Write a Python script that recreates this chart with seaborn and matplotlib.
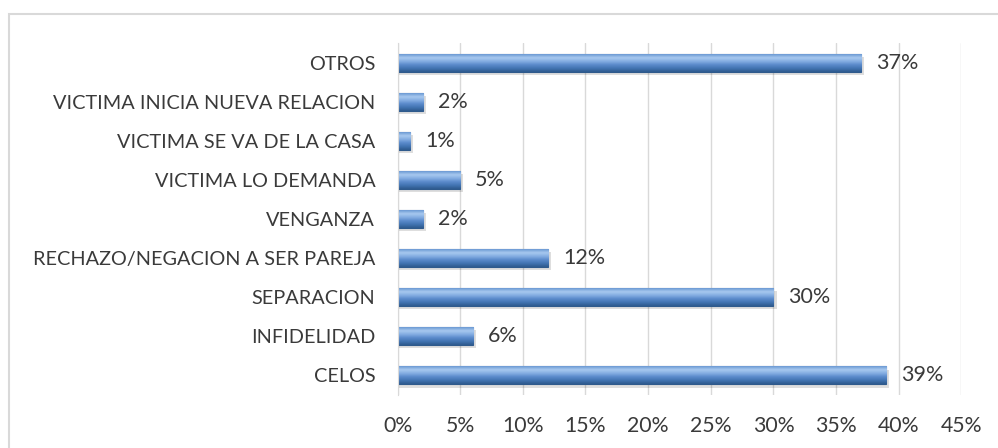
import numpy as np
import pandas as pd
import matplotlib
matplotlib.use("Agg")
import matplotlib.pyplot as plt
from matplotlib.patches import Rectangle
from matplotlib.colors import LinearSegmentedColormap
import seaborn as sns

categories = ["OTROS", "VICTIMA INICIA NUEVA RELACION", "VICTIMA SE VA DE LA CASA",
              "VICTIMA LO DEMANDA", "VENGANZA", "RECHAZO/NEGACION A SER PAREJA",
              "SEPARACION", "INFIDELIDAD", "CELOS"]
values = [37, 2, 1, 5, 2, 12, 30, 6, 39]
xticks = [0, 5, 10, 15, 20, 25, 30, 35, 40, 45]

df = pd.DataFrame({"motivo": categories, "pct": values})

sns.set_style("white")
plt.rcParams["font.family"] = ["Lato", "DejaVu Sans"]
txt = "#3A3A3A"

fig = plt.figure(figsize=(9.98, 4.48), dpi=100)
ax = fig.add_axes([0.3983, 0.1183, 0.5651, 0.7857])

bh = 0.46
sns.barplot(data=df, x="pct", y="motivo", orient="h", color="#4A7EBB",
            width=bh, saturation=1, edgecolor="#2F5A8C", linewidth=0.8, ax=ax, zorder=2)
rects = list(ax.patches)

# excel-like bevel: vertical gradient clipped to each bar
grad = LinearSegmentedColormap.from_list(
    "bevel", ["#6A98D2", "#A9CAF0", "#84ADE2", "#5A8ACB", "#4274B2", "#2E5A8E"])
g = np.linspace(0, 1, 64).reshape(-1, 1)
for r in rects:
    x0, y0, w, h = r.get_x(), r.get_y(), r.get_width(), r.get_height()
    im = ax.imshow(g, cmap=grad, aspect="auto", extent=(x0, x0 + w, y0 + h, y0),
                   zorder=2.5, interpolation="bicubic")
    im.set_clip_path(r)
    # soft shadow
    ax.add_patch(Rectangle((x0 + 0.1, y0 + 0.08), w + 0.15, h, color="#000000",
                           alpha=0.13, zorder=1, linewidth=0))

for i, v in enumerate(values):
    ax.text(v + 1.2, i, f"{v}%", va="center", ha="left", fontsize=15.5, color=txt)

ax.set_xlim(0, 45)
ax.set_ylim(len(categories) - 0.5, -0.5)
ax.set_xticks(xticks)
ax.set_xticklabels([f"{t}%" for t in xticks])
ax.set_xlabel("")
ax.set_ylabel("")
ax.grid(axis="x", color="#D9D9D9", linewidth=1)
ax.set_axisbelow(True)
for s in ["top", "right", "bottom"]:
    ax.spines[s].set_visible(False)
ax.spines["left"].set_color("#D9D9D9")
ax.tick_params(axis="both", length=0, colors=txt)
ax.tick_params(axis="y", pad=16, labelsize=14.3)
ax.tick_params(axis="x", pad=15, labelsize=15.3)

# outer chart border
fig.add_artist(Rectangle((9 / 998, -0.05), 1.0, 1 - 14 / 448 + 0.05, transform=fig.transFigure,
                         fill=False, edgecolor="#D9D9D9", linewidth=1.5))

fig.savefig("out.png", dpi=100)
